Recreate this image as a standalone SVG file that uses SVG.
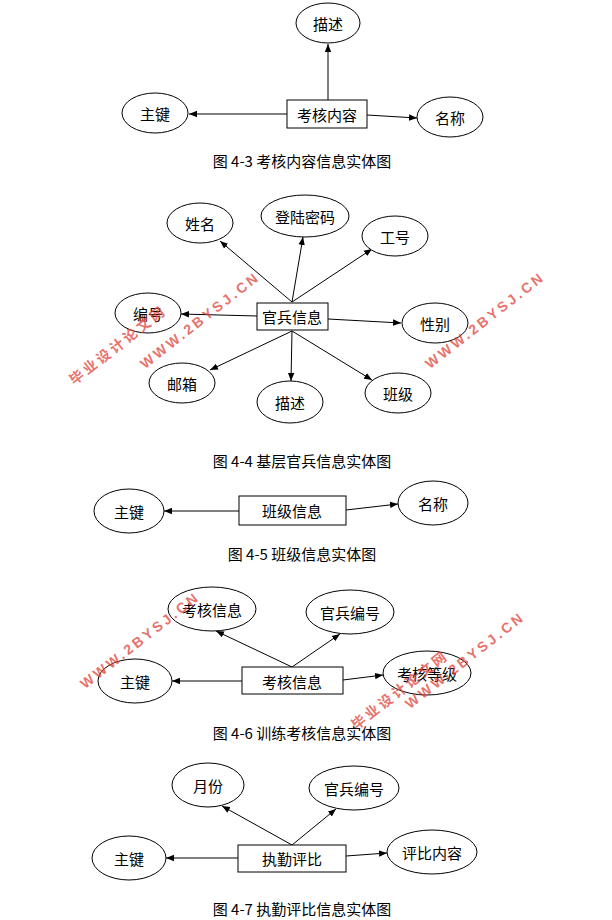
<svg xmlns="http://www.w3.org/2000/svg" width="612" height="920" viewBox="0 0 612 920">
<defs>
<marker id="a" viewBox="0 0 10 10" refX="10" refY="5" markerWidth="8" markerHeight="8" orient="auto"><path d="M0,1 L10,5 L0,9 z" fill="#000"/></marker>
<style>
ellipse,rect{fill:#fff;stroke:#000;stroke-width:1}
line{stroke:#000;stroke-width:1;marker-end:url(#a)}
text{font-family:"Noto Sans CJK SC","Liberation Serif",serif;font-size:15px;text-anchor:middle;dominant-baseline:central;fill:#000}
.wm{font-family:"Liberation Sans","Noto Sans CJK SC",sans-serif;font-size:14px;font-weight:bold;fill:#e0443a;opacity:.75;letter-spacing:3px}
</style>
</defs>
<rect x="0" y="0" width="612" height="920" style="fill:#fff;stroke:none"/>
<g id="connectors">
<line x1="328" y1="100" x2="328" y2="44"/>
<line x1="287" y1="114" x2="189" y2="114"/>
<line x1="367" y1="115" x2="417" y2="118"/>
<line x1="292" y1="302" x2="220" y2="241"/>
<line x1="292" y1="302" x2="303" y2="237"/>
<line x1="292" y1="302" x2="372" y2="249"/>
<line x1="257" y1="316" x2="181" y2="314"/>
<line x1="328" y1="319" x2="401" y2="323"/>
<line x1="292" y1="331" x2="210" y2="370"/>
<line x1="292" y1="331" x2="291" y2="381"/>
<line x1="292" y1="331" x2="372" y2="380"/>
<line x1="239" y1="511" x2="164" y2="511"/>
<line x1="346" y1="510" x2="398" y2="504"/>
<line x1="292" y1="667" x2="216" y2="631"/>
<line x1="292" y1="667" x2="340" y2="634"/>
<line x1="242" y1="681" x2="172" y2="681"/>
<line x1="343" y1="680" x2="383" y2="675"/>
<line x1="292" y1="845" x2="222" y2="806"/>
<line x1="292" y1="845" x2="336" y2="809"/>
<line x1="238" y1="858" x2="166" y2="858"/>
<line x1="346" y1="856" x2="387" y2="853"/>
</g>
<g id="n1"><ellipse cx="328" cy="23" rx="32" ry="20"/><text x="328" y="23">描述</text></g>
<g id="n2"><rect x="287" y="100" width="80" height="28"/><text x="327" y="114">考核内容</text></g>
<g id="n3"><ellipse cx="155" cy="113" rx="33" ry="20"/><text x="155" y="113">主键</text></g>
<g id="n4"><ellipse cx="450" cy="117" rx="33" ry="20"/><text x="450" y="117">名称</text></g>
<text x="302" y="160">图 4-3 考核内容信息实体图</text>
<g id="n5"><rect x="257" y="303" width="71" height="27"/><text x="292" y="316">官兵信息</text></g>
<g id="n6"><ellipse cx="200" cy="223" rx="33" ry="20"/><text x="200" y="223">姓名</text></g>
<g id="n7"><ellipse cx="305" cy="216" rx="44" ry="21"/><text x="305" y="216">登陆密码</text></g>
<g id="n8"><ellipse cx="395" cy="236" rx="33" ry="20"/><text x="395" y="236">工号</text></g>
<g id="n9"><ellipse cx="148" cy="313" rx="33" ry="20"/><text x="148" y="313">编号</text></g>
<g id="n10"><ellipse cx="435" cy="323" rx="33" ry="20"/><text x="435" y="323">性别</text></g>
<g id="n11"><ellipse cx="182" cy="383" rx="33" ry="20"/><text x="182" y="383">邮箱</text></g>
<g id="n12"><ellipse cx="290" cy="402" rx="33" ry="21"/><text x="290" y="402">描述</text></g>
<g id="n13"><ellipse cx="398" cy="393" rx="33" ry="20"/><text x="398" y="393">班级</text></g>
<text x="302" y="460">图 4-4 基层官兵信息实体图</text>
<g id="n14"><rect x="239" y="496" width="107" height="29"/><text x="292" y="510">班级信息</text></g>
<g id="n15"><ellipse cx="129" cy="511" rx="35" ry="22"/><text x="129" y="511">主键</text></g>
<g id="n16"><ellipse cx="433" cy="503" rx="35" ry="22"/><text x="433" y="503">名称</text></g>
<text x="302" y="553">图 4-5 班级信息实体图</text>
<g id="n17"><rect x="242" y="667" width="101" height="27"/><text x="292" y="681">考核信息</text></g>
<g id="n18"><ellipse cx="212" cy="609" rx="44" ry="22"/><text x="212" y="609">考核信息</text></g>
<g id="n19"><ellipse cx="350" cy="612" rx="44" ry="22"/><text x="350" y="612">官兵编号</text></g>
<g id="n20"><ellipse cx="135" cy="681" rx="37" ry="22"/><text x="135" y="681">主键</text></g>
<g id="n21"><ellipse cx="427" cy="673" rx="44" ry="22"/><text x="427" y="673">考核等级</text></g>
<text x="302" y="732">图 4-6 训练考核信息实体图</text>
<g id="n22"><rect x="238" y="845" width="108" height="27"/><text x="292" y="858">执勤评比</text></g>
<g id="n23"><ellipse cx="208" cy="785" rx="36" ry="22"/><text x="208" y="785">月份</text></g>
<g id="n24"><ellipse cx="354" cy="788" rx="45" ry="22"/><text x="354" y="788">官兵编号</text></g>
<g id="n25"><ellipse cx="129" cy="858" rx="37" ry="22"/><text x="129" y="858">主键</text></g>
<g id="n26"><ellipse cx="432" cy="852" rx="45" ry="22"/><text x="432" y="852">评比内容</text></g>
<text x="302" y="908">图 4-7 执勤评比信息实体图</text>
<g id="watermarks">
<text class="wm" transform="translate(118,345) rotate(-38)">毕业设计论文网</text>
<text class="wm" transform="translate(200,320) rotate(-38)">WWW.2BYSJ.CN</text>
<text class="wm" transform="translate(485,320) rotate(-38)">WWW.2BYSJ.CN</text>
<text class="wm" transform="translate(140,640) rotate(-38)">WWW.2BYSJ.CN</text>
<text class="wm" transform="translate(400,690) rotate(-38)">毕业设计论文网</text>
<text class="wm" transform="translate(465,660) rotate(-38)">WWW.2BYSJ.CN</text>
</g>
</svg>
